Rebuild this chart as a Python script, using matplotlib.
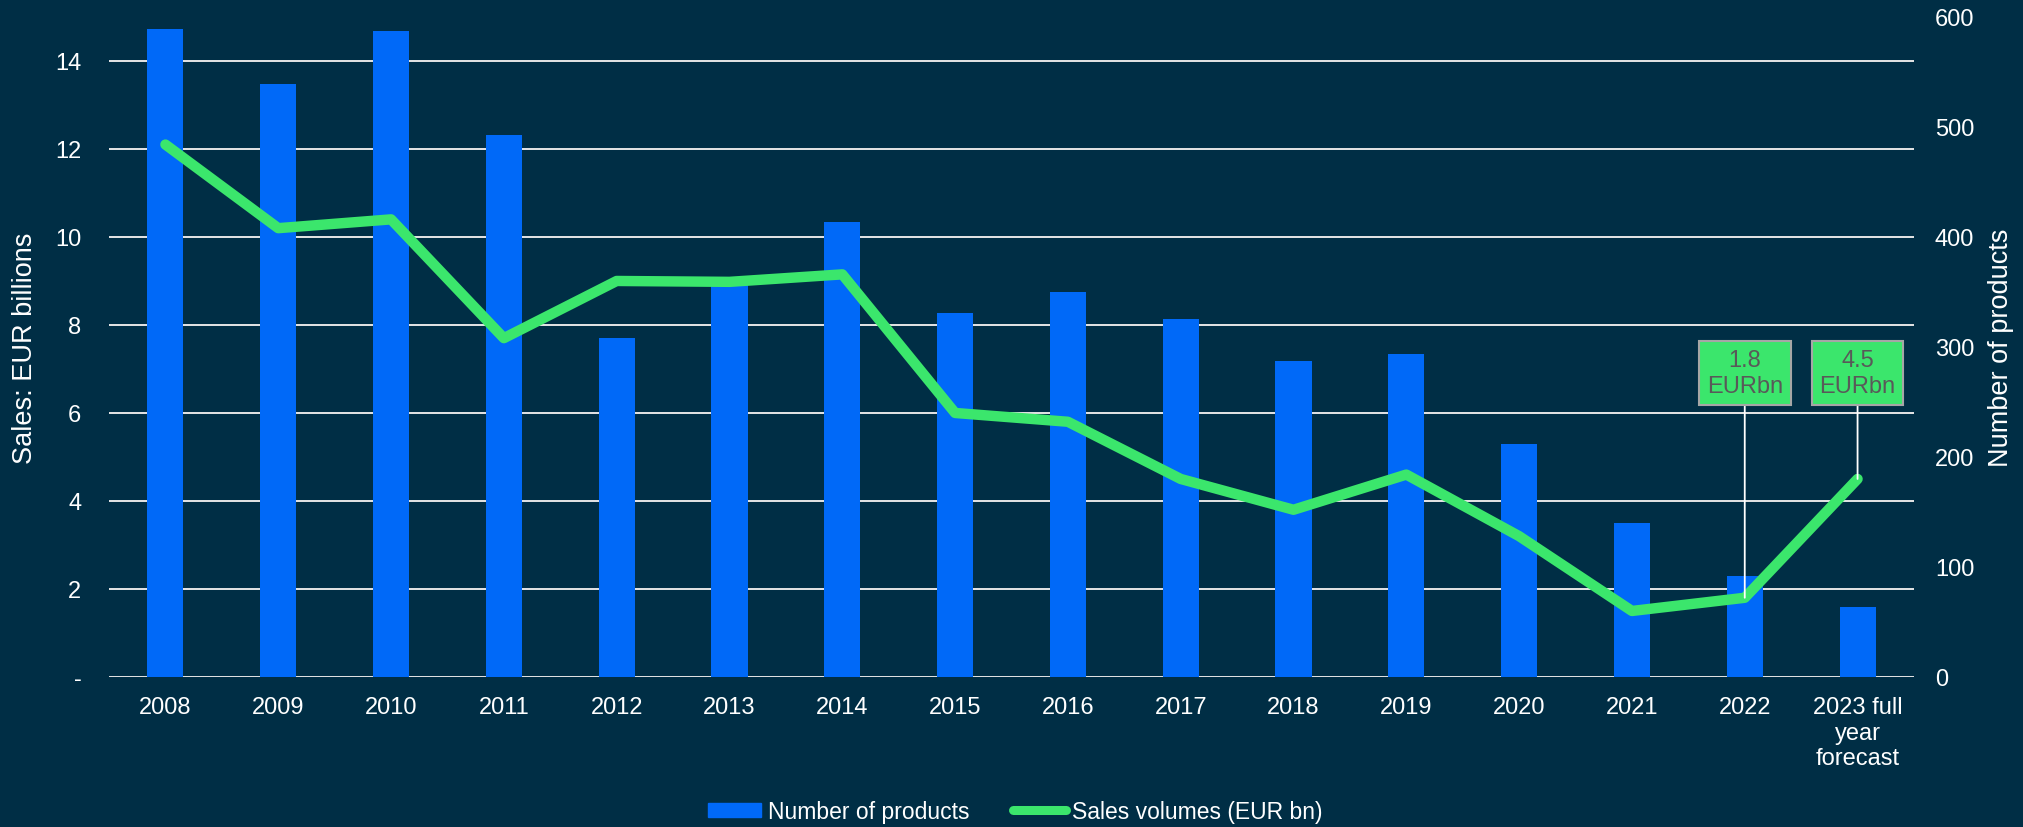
import matplotlib
matplotlib.use("Agg")
import matplotlib.pyplot as plt
from matplotlib.patches import Patch
from matplotlib.lines import Line2D

# data
years = ["2008", "2009", "2010", "2011", "2012", "2013", "2014", "2015",
         "2016", "2017", "2018", "2019", "2020", "2021", "2022",
         "2023 full\nyear\nforecast"]
num_products = [589, 539, 587, 493, 308, 358, 414, 331,
                350, 325, 287, 294, 212, 140, 92, 64]
sales_bn = [12.1, 10.2, 10.4, 7.7, 9.0, 8.98, 9.15, 6.0,
            5.8, 4.5, 3.8, 4.6, 3.2, 1.5, 1.8, 4.5]
callouts = {14: "1.8\nEURbn", 15: "4.5\nEURbn"}

bg = "#002E45"
bar_col = "#0069F8"
line_col = "#3BE66C"

plt.rcParams["font.family"] = ["Liberation Sans", "DejaVu Sans"]

fig = plt.figure(figsize=(20.23, 8.28), dpi=100, facecolor=bg)
ax = fig.add_axes([0.0539, 0.1812, 0.8922, 0.7971])
ax.set_facecolor(bg)

x = list(range(len(years)))

# left axis: gridlines only
ax.set_xlim(-0.5, len(years) - 0.5)
ax.set_ylim(0, 15)
ax.set_yticks(range(0, 15, 2))
ax.set_yticklabels(["-"] + [str(v) for v in range(2, 15, 2)])
ax.grid(axis="y", color="#E6E6E6", lw=1.4)
ax.set_axisbelow(True)
ax.set_xticks(x)
ax.set_xticklabels(years)
ax.tick_params(axis="both", length=0, labelsize=17, colors="white")
ax.tick_params(axis="y", pad=20)
ax.tick_params(axis="x", pad=14)
for s in ax.spines.values():
    s.set_visible(False)
ax.set_ylabel("Sales: EUR billions", color="white", fontsize=19.5, labelpad=12)

# right axis: bars
ax2 = ax.twinx()
ax2.bar(x, num_products, width=0.32, color=bar_col, zorder=2)
ax2.set_ylim(0, 600)
ax2.set_yticks(range(0, 601, 100))
ax2.tick_params(axis="y", length=0, labelsize=17, colors="white", pad=15)
for s in ax2.spines.values():
    s.set_visible(False)
ax2.set_ylabel("Number of products", color="white", fontsize=19.5, labelpad=10)

# line on top of the bars, same scale as the left axis
ax3 = ax.twinx()
ax3.set_ylim(ax.get_ylim())
ax3.axis("off")
ax3.plot(x, sales_bn, color=line_col, lw=7.5, solid_capstyle="round",
         solid_joinstyle="round", zorder=3)

for i, txt in callouts.items():
    ax3.annotate(txt, xy=(i, sales_bn[i]), xytext=(i, 6.9),
                 ha="center", va="center", fontsize=17, color="#595959",
                 linespacing=1.25,
                 bbox=dict(boxstyle="square,pad=0.33", fc=line_col,
                           ec="#A6A6A6", lw=1.5),
                 arrowprops=dict(arrowstyle="-", color="white", lw=1.3,
                                 shrinkA=0, shrinkB=0))

handles = [Patch(color=bar_col),
           Line2D([0], [0], color=line_col, lw=6.5, solid_capstyle="round")]
fig.legend(handles, ["Number of products", "Sales volumes (EUR bn)"],
           loc="center", bbox_to_anchor=(0.502, 0.019), ncol=2, frameon=False,
           fontsize=16.5, labelcolor="white",
           handlelength=2.3, handleheight=0.55, handletextpad=0.3,
           columnspacing=1.9)

fig.savefig("out.png", dpi=100, facecolor=bg)
